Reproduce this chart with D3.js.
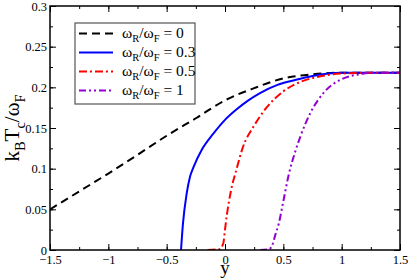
<!DOCTYPE html>
<html>
<head>
<meta charset="utf-8">
<script src="https://cdn.jsdelivr.net/npm/d3@7"></script>
<style>
  body { margin: 0; background: #fff; }
</style>
</head>
<body>
<div id="chart"></div>
<script>
// plot box
var width = 409,
    height = 280,
    margin = {left: 50, right: 9, top: 6, bottom: 30}
var serif = "'Liberation Serif', 'Times New Roman', serif"

// data
var xTicks = [-1.5, -1, -0.5, 0, 0.5, 1, 1.5]
var yTicks = [0, 0.05, 0.1, 0.15, 0.2, 0.25, 0.3]

var ratioLabels = ["0", "0.3", "0.5", "1"]

var y0 = [-1.5, -1.25, -1, -0.75, -0.5, -0.25, 0, 0.25, 0.5, 0.75, 1, 1.25, 1.5]
var t0 = [0.05, 0.072, 0.094, 0.117, 0.1405, 0.162, 0.184, 0.199, 0.211, 0.216, 0.218, 0.218, 0.218]

var y03 = [-0.377, -0.36, -0.33, -0.3, -0.27, -0.2, -0.1, 0, 0.1, 0.2, 0.3, 0.45, 0.6, 0.75, 1, 1.25, 1.5]
var t03 = [0, 0.033, 0.068, 0.09, 0.102, 0.123, 0.143, 0.16, 0.173, 0.184, 0.193, 0.203, 0.209, 0.214, 0.218, 0.218, 0.218]

var y05 = [-0.15, -0.05, -0.015, 0, 0.015, 0.05, 0.1, 0.15, 0.25, 0.35, 0.5, 0.65, 0.8, 1, 1.25, 1.5]
var t05 = [0, 0.001, 0.008, 0.025, 0.042, 0.072, 0.1, 0.125, 0.153, 0.174, 0.195, 0.207, 0.213, 0.217, 0.218, 0.218]

var y1 = [0.3, 0.38, 0.41, 0.43, 0.46, 0.5, 0.55, 0.6, 0.65, 0.73, 0.85, 1, 1.15, 1.3, 1.5]
var t1 = [0, 0.001, 0.008, 0.018, 0.032, 0.06, 0.095, 0.12, 0.141, 0.168, 0.194, 0.21, 0.216, 0.218, 0.218]

var series = [
  {label: ratioLabels[0], ys: y0, ts: t0, color: "#000000", dash: "8,5"},
  {label: ratioLabels[1], ys: y03, ts: t03, color: "#0000ff", dash: null},
  {label: ratioLabels[2], ys: y05, ts: t05, color: "#ff0000", dash: "8,3,2,3"},
  {label: ratioLabels[3], ys: y1, ts: t1, color: "#9400d3", dash: "7,3,2,3,2,3"}
]

var svg = d3.select("#chart")
  .append("svg")
    .attr("width", width)
    .attr("height", height)

var x = d3.scaleLinear().domain([-1.5, 1.5]).range([margin.left, width - margin.right])
var y = d3.scaleLinear().domain([0, 0.3]).range([height - margin.bottom, margin.top])

var x0 = x.range()[0], x1 = x.range()[1]
var yb = y.range()[0], yt = y.range()[1]

// inward ticks on all four sides (major + minor)
var xMinor = d3.range(-1.5, 1.5001, 0.25)
var yMinor = d3.range(0, 0.3001, 0.025)

svg.append("g").attr("transform", "translate(0," + yb + ")")
  .call(d3.axisBottom(x).tickValues(xMinor).tickSize(-3).tickFormat(""))
svg.append("g").attr("transform", "translate(0," + yb + ")")
  .call(d3.axisBottom(x).tickValues(xTicks).tickSize(-6).tickPadding(5).tickFormat(d3.format("")))
svg.append("g").attr("transform", "translate(0," + yt + ")")
  .call(d3.axisTop(x).tickValues(xMinor).tickSize(-3).tickFormat(""))
svg.append("g").attr("transform", "translate(0," + yt + ")")
  .call(d3.axisTop(x).tickValues(xTicks).tickSize(-6).tickFormat(""))

svg.append("g").attr("transform", "translate(" + x0 + ",0)")
  .call(d3.axisLeft(y).tickValues(yMinor).tickSize(-3).tickFormat(""))
svg.append("g").attr("transform", "translate(" + x0 + ",0)")
  .call(d3.axisLeft(y).tickValues(yTicks).tickSize(-6).tickPadding(3).tickFormat(d3.format("")))
svg.append("g").attr("transform", "translate(" + x1 + ",0)")
  .call(d3.axisRight(y).tickValues(yMinor).tickSize(-3).tickFormat(""))
svg.append("g").attr("transform", "translate(" + x1 + ",0)")
  .call(d3.axisRight(y).tickValues(yTicks).tickSize(-6).tickFormat(""))

svg.selectAll(".domain").remove()
svg.selectAll(".tick line").attr("stroke", "#000")
svg.selectAll(".tick text")
  .style("font-family", serif)
  .style("font-size", "12.5px")
  .attr("fill", "#000")

// curves
svg.append("clipPath").attr("id", "clip")
  .append("rect").attr("x", x0).attr("y", yt).attr("width", x1 - x0).attr("height", yb - yt)

var line = d3.line()
  .x(function(d) { return x(d[0]) })
  .y(function(d) { return y(d[1]) })
  .curve(d3.curveMonotoneX)

svg.append("g").attr("clip-path", "url(#clip)")
  .selectAll("path")
  .data(series)
  .enter()
  .append("path")
    .attr("d", function(s) { return line(d3.zip(s.ys, s.ts)) })
    .attr("fill", "none")
    .attr("stroke", function(s) { return s.color })
    .attr("stroke-width", 2)
    .attr("stroke-dasharray", function(s) { return s.dash })

// frame
svg.append("rect")
  .attr("x", x0).attr("y", yt)
  .attr("width", x1 - x0).attr("height", yb - yt)
  .attr("fill", "none").attr("stroke", "#000").attr("stroke-width", 1.5)

// legend
var lg = svg.append("g").attr("transform", "translate(75,23)")
lg.append("rect")
  .attr("width", 120).attr("height", 81)
  .attr("fill", "#fff").attr("stroke", "#555").attr("stroke-width", 1.2)

var item = lg.selectAll(".item")
  .data(series)
  .enter()
  .append("g")
    .attr("transform", function(s, i) { return "translate(0," + (10.5 + i * 19) + ")" })

item.append("line")
  .attr("x1", 4).attr("x2", 38)
  .attr("stroke", function(s) { return s.color })
  .attr("stroke-width", 2)
  .attr("stroke-dasharray", function(s) { return s.dash })

var lt = item.append("text")
  .attr("x", 47).attr("y", 4)
  .style("font-family", serif)
  .style("font-size", "15.5px")
lt.append("tspan").text("ω")
lt.append("tspan").attr("dy", 4).style("font-size", "10.5px").text("R")
lt.append("tspan").attr("dy", -4).text("/ω")
lt.append("tspan").attr("dy", 4).style("font-size", "10.5px").text("F")
lt.append("tspan").attr("dy", -4).text(function(s) { return " = " + s.label })

// axis titles
svg.append("text")
  .attr("x", (x0 + x1) / 2).attr("y", 274)
  .attr("text-anchor", "middle")
  .style("font-family", serif)
  .style("font-size", "19px")
  .text("y")

var yl = svg.append("text")
  .attr("transform", "translate(19," + ((yb + yt) / 2) + ") rotate(-90)")
  .attr("text-anchor", "middle")
  .style("font-family", serif)
  .style("font-size", "21px")
yl.append("tspan").text("k")
yl.append("tspan").attr("dy", 6).style("font-size", "14.5px").text("B")
yl.append("tspan").attr("dy", -6).text("T")
yl.append("tspan").attr("dy", 6).style("font-size", "14.5px").text("c")
yl.append("tspan").attr("dy", -6).text("/ω")
yl.append("tspan").attr("dy", 6).style("font-size", "14.5px").text("F")
</script>
</body>
</html>
